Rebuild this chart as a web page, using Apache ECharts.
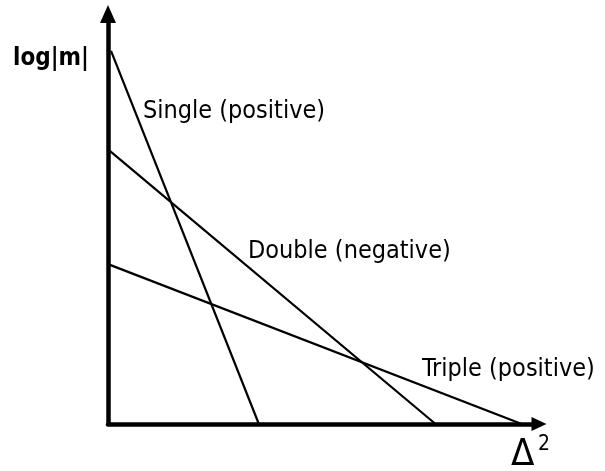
<!DOCTYPE html>
<html>
<head>
<meta charset="utf-8">
<script src="https://cdn.jsdelivr.net/npm/echarts@6/dist/echarts.min.js"></script>
<style>
    html, body { margin: 0; padding: 0; background: #fff; }
    #chart { width: 605px; height: 471px; }
</style>
</head>
<body>
<div id="chart"></div>
<script>
// lines in arbitrary units, axes run 0..100
var singleLine = [[0.7, 91], [35, 0]];
var doubleLine = [[0, 67], [76, 0]];
var tripleLine = [[0, 39], [96, 0]];
var lineNames = ['Single (positive)', 'Double (negative)', 'Triple (positive)'];
var yName = 'log|m|';

var myChart = echarts.init(document.getElementById('chart'));

var font = '"DejaVu Sans Condensed", "DejaVu Sans", sans-serif';

function lineSeries(name, data) {
    return {
        name: name,
        type: 'line',
        data: data,
        showSymbol: false,
        silent: true,
        lineStyle: { color: '#000', width: 2.2 }
    };
}

function axis(size) {
    return {
        type: 'value',
        min: 0,
        max: 100,
        axisLine: {
            show: true,
            symbol: ['none', 'triangle'],
            symbolSize: size,
            lineStyle: { color: '#000', width: 4.5 }
        },
        axisTick: { show: false },
        axisLabel: { show: false },
        splitLine: { show: false }
    };
}

function label(txt, x, y, size, weight) {
    return {
        type: 'text',
        x: x,
        y: y,
        style: {
            text: txt,
            fill: '#000',
            fontFamily: font,
            fontSize: size,
            fontWeight: weight || 'normal',
            textVerticalAlign: 'middle'
        }
    };
}

var option = {
    animation: false,
    grid: { left: 108, right: 66, top: 14, bottom: 47 },
    xAxis: axis([14, 15]),
    yAxis: axis([16, 18]),
    series: [
        lineSeries(lineNames[0], singleLine),
        lineSeries(lineNames[1], doubleLine),
        lineSeries(lineNames[2], tripleLine)
    ],
    graphic: [
        label(yName, 13, 59, 24, 'bold'),
        label(lineNames[0], 143, 111, 25),
        label(lineNames[1], 248, 251, 25),
        label(lineNames[2], 422, 369, 25),
        label('\u0394', 511, 455, 38),
        label('2', 538, 445, 21)
    ]
};

myChart.setOption(option);
</script>
</body>
</html>
